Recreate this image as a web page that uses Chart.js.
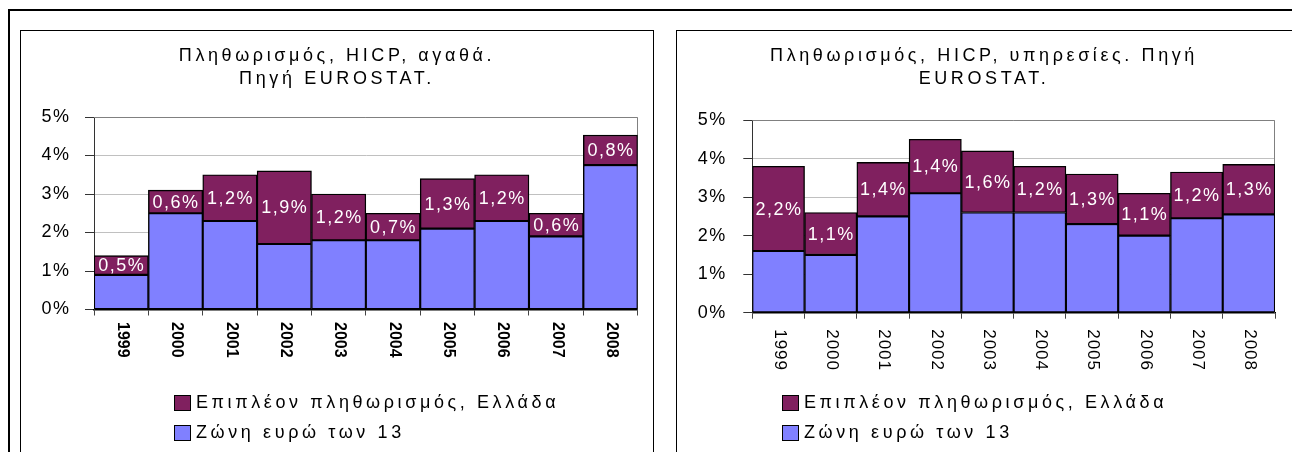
<!DOCTYPE html>
<html lang="el">
<head>
<meta charset="UTF-8">
<title>Πληθωρισμός, HICP</title>
<script src="https://cdn.jsdelivr.net/npm/chart.js"></script>
<style>
    body { margin: 0; background: #fff; font-family: 'Liberation Sans', Arial, sans-serif; width: 1292px; height: 452px; overflow: hidden; position: relative; }
    .frame { position: absolute; left: 8px; top: 9px; width: 1400px; height: 600px; border: 2px solid #000; }
    .panel { position: absolute; top: 30px; width: 632px; height: 600px; border: 1px solid #000; background: #fff; }
    .panel canvas { position: absolute; left: 0; top: 0; }
    .title { position: absolute; top: 13px; left: 0; width: 632px; text-align: center; font-size: 18px; line-height: 23px; letter-spacing: 3.6px; color: #000; }
    .item { position: absolute; height: 20px; font-size: 18px; line-height: 20px; letter-spacing: 3.6px; white-space: nowrap; }
    .box { position: absolute; top: 3px; width: 15px; height: 14px; border: 1px solid #000; }
</style>
</head>
<body>
<div class="frame"></div>

<div class="panel" style="left:20px">
    <canvas id="goods" width="632" height="421"></canvas>
    <div class="title">Πληθωρισμός, HICP, αγαθά.<br>Πηγή EUROSTAT.</div>
    <div class="item" style="left:153px; top:361px"><span class="box" style="left:0; background:#80205f"></span><span style="margin-left:22px" class="lg1"></span></div>
    <div class="item" style="left:153px; top:391px"><span class="box" style="left:0; background:#8080ff"></span><span style="margin-left:22px" class="lg2"></span></div>
</div>

<div class="panel" style="left:676px">
    <canvas id="services" width="632" height="421"></canvas>
    <div class="title" style="width:614px">Πληθωρισμός, HICP, υπηρεσίες. Πηγή<br>EUROSTAT.</div>
    <div class="item" style="left:105px; top:361px"><span class="box" style="left:0; background:#80205f"></span><span style="margin-left:22px" class="lg1"></span></div>
    <div class="item" style="left:105px; top:391px"><span class="box" style="left:0; background:#8080ff"></span><span style="margin-left:22px" class="lg2"></span></div>
</div>

<script>
    const years = ['1999', '2000', '2001', '2002', '2003', '2004', '2005', '2006', '2007', '2008'];
    const extraLabel = 'Επιπλέον πληθωρισμός, Ελλάδα';
    const euroLabel = 'Ζώνη ευρώ των 13';

    // goods (left chart)
    const goodsEuro = [0.9, 2.5, 2.3, 1.7, 1.8, 1.8, 2.1, 2.3, 1.9, 3.75];
    const goodsExtra = [0.5, 0.6, 1.2, 1.9, 1.2, 0.7, 1.3, 1.2, 0.6, 0.78];

    // services (right chart)
    const servicesEuro = [1.6, 1.5, 2.5, 3.1, 2.6, 2.6, 2.3, 2.0, 2.45, 2.55];
    const servicesExtra = [2.2, 1.1, 1.4, 1.4, 1.6, 1.2, 1.3, 1.1, 1.2, 1.3];

    const yTicks = [0, 1, 2, 3, 4, 5];

    document.querySelectorAll('.lg1').forEach(el => el.textContent = extraLabel);
    document.querySelectorAll('.lg2').forEach(el => el.textContent = euroLabel);

    const FONT = "'Liberation Sans', Arial, sans-serif";

    const decor = {
        id: 'decor',
        beforeDraw(chart) {
            chart.ctx.letterSpacing = '1.5px';   // y tick labels
        },
        beforeDatasetsDraw(chart) {
            const { ctx, chartArea: a } = chart;
            ctx.save();
            ctx.strokeStyle = '#808080';
            ctx.lineWidth = 1;
            ctx.beginPath();
            ctx.moveTo(a.left, Math.round(a.top) + 0.5);
            ctx.lineTo(Math.round(a.right) - 0.5, Math.round(a.top) + 0.5);
            ctx.lineTo(Math.round(a.right) - 0.5, a.bottom);
            ctx.stroke();
            ctx.restore();
        },
        afterDatasetsDraw(chart) {
            const ctx = chart.ctx;
            const meta = chart.getDatasetMeta(1);
            const data = chart.data.datasets[1].data;
            ctx.save();
            ctx.letterSpacing = '1.5px';
            ctx.font = '18px ' + FONT;
            ctx.fillStyle = '#fff';
            ctx.textAlign = 'center';
            ctx.textBaseline = 'middle';
            meta.data.forEach((bar, i) => {
                const txt = data[i].toFixed(1).replace('.', ',') + '%';
                ctx.fillText(txt, bar.x + 0.5, (bar.y + bar.base) / 2 + 1);
            });
            ctx.restore();
        },
        afterDraw(chart, args, opts) {
            const { ctx, chartArea: a } = chart;
            const xs = chart.scales.x;
            ctx.save();
            ctx.letterSpacing = opts.spacing;
            ctx.font = opts.font;
            ctx.fillStyle = '#000';
            ctx.textAlign = 'left';
            ctx.textBaseline = 'middle';
            chart.data.labels.forEach((lab, i) => {
                ctx.save();
                ctx.translate(xs.getPixelForValue(i) + 1, a.bottom + opts.gap);
                ctx.rotate(Math.PI / 2);
                ctx.fillText(lab, 0, 0);
                ctx.restore();
            });
            ctx.restore();
            ctx.letterSpacing = '0px';
        }
    };

    function makeChart(id, euro, extra, o) {
        return new Chart(document.getElementById(id), {
            type: 'bar',
            data: {
                labels: years,
                datasets: [
                    { label: euroLabel, data: euro, backgroundColor: '#8080ff', borderColor: '#000', borderWidth: 1.4, borderSkipped: false, categoryPercentage: 1, barPercentage: 1 },
                    { label: extraLabel, data: extra, backgroundColor: '#80205f', borderColor: '#000', borderWidth: 1.4, borderSkipped: false, categoryPercentage: 1, barPercentage: 1 }
                ]
            },
            options: {
                responsive: false,
                animation: false,
                layout: { padding: { top: o.top, right: o.right, left: 0, bottom: 0 } },
                plugins: {
                    legend: { display: false },
                    tooltip: { enabled: false },
                    decor: { font: o.xFont, spacing: o.xSpacing, gap: o.xGap }
                },
                scales: {
                    x: {
                        stacked: true,
                        offset: true,
                        ticks: { display: false },
                        grid: { offset: true, drawOnChartArea: false, drawTicks: true, tickLength: 6, tickColor: '#444' },
                        border: { color: '#000', width: 1.5 },
                        afterFit: s => { s.height = o.xh; s.paddingLeft = 0; s.paddingRight = 0; }
                    },
                    y: {
                        stacked: true,
                        min: 0,
                        max: 5,
                        afterBuildTicks: s => { s.ticks = yTicks.map(v => ({ value: v })); },
                        ticks: {
                            callback: v => v + '%',
                            padding: o.pad,
                            color: '#000',
                            font: { family: FONT, size: 18 }
                        },
                        grid: { color: c => c.tick && c.tick.value === 0 ? 'rgba(0,0,0,0)' : '#c0c0c0', tickColor: '#333', tickLength: 9 },
                        border: { color: '#333', width: 1 },
                        afterFit: s => { s.width = o.yw; s.paddingTop = 0; s.paddingBottom = 0; }
                    }
                }
            },
            plugins: [decor]
        });
    }

    makeChart('goods', goodsEuro, goodsExtra, {
        top: 86, right: 15.3, yw: 73, xh: 142.5, pad: 14.5,
        xFont: 'bold 16px ' + FONT, xSpacing: '0px', xGap: 12.5
    });
    makeChart('services', servicesEuro, servicesExtra, {
        top: 89, right: 34, yw: 75.3, xh: 139.3, pad: 16.5,
        xFont: '17px ' + FONT, xSpacing: '1px', xGap: 16.5
    });
</script>
</body>
</html>
